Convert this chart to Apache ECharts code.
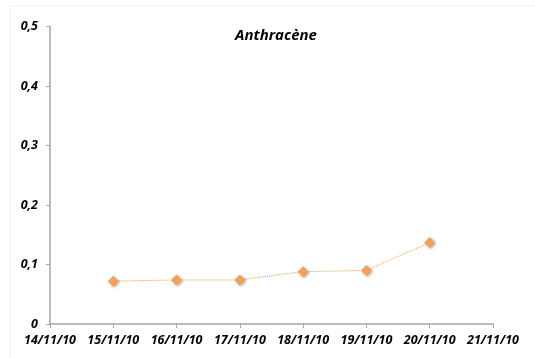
<!DOCTYPE html>
<html>
<head>
<meta charset="utf-8">
<script src="https://cdn.jsdelivr.net/npm/echarts@6/dist/echarts.min.js"></script>
<style>
  html, body { margin: 0; padding: 0; background: #fff; }
  #main { width: 535px; height: 358px; }
</style>
</head>
<body>
<div id="main"></div>
<script>
var dates = ['14/11/10', '15/11/10', '16/11/10', '17/11/10', '18/11/10', '19/11/10', '20/11/10', '21/11/10'];
var anthracene = [null, 0.072, 0.074, 0.074, 0.088, 0.090, 0.137, null];

var myChart = echarts.init(document.getElementById('main'));
var labelFont = {
  fontFamily: 'Open Sans',
  fontStyle: 'italic',
  fontWeight: 'bold',
  fontSize: 12.5,
  color: '#000'
};

var option = {
  animation: false,
  backgroundColor: '#fff',
  graphic: [{
    type: 'rect',
    shape: { x: 10, y: 6, width: 530, height: 360 },
    style: { fill: 'none', stroke: '#eeeeee', lineWidth: 1 },
    silent: true
  }],
  title: {
    text: 'Anthracène',
    left: 271,
    top: 23,
    textAlign: 'center',
    textStyle: {
      fontFamily: 'Open Sans',
      fontStyle: 'italic',
      fontWeight: 'bold',
      fontSize: 15,
      color: '#000'
    }
  },
  grid: { left: 50, right: 42, top: 26.5, bottom: 34, containLabel: false },
  xAxis: {
    type: 'category',
    data: dates,
    boundaryGap: false,
    axisLine: { lineStyle: { color: '#a6a6a6', width: 1.5 } },
    axisTick: { show: true, length: 4, lineStyle: { color: '#a6a6a6' } },
    axisLabel: Object.assign({ margin: 10, interval: 0 }, labelFont),
    splitLine: { show: false }
  },
  yAxis: {
    type: 'value',
    min: 0,
    max: 0.5,
    interval: 0.1,
    axisLine: { show: true, lineStyle: { color: '#a6a6a6', width: 1.5 } },
    axisTick: { show: true, length: 4, lineStyle: { color: '#a6a6a6' } },
    axisLabel: Object.assign({
      margin: 12,
      formatter: function (v) { return v === 0 ? '0' : v.toFixed(1).replace('.', ','); }
    }, labelFont),
    splitLine: { show: false }
  },
  series: [{
    name: 'Anthracène',
    type: 'line',
    data: anthracene,
    connectNulls: false,
    symbol: 'diamond',
    symbolSize: 11,
    lineStyle: { color: '#f39a45', width: 1, type: 'dotted' },
    itemStyle: {
      color: '#f2a05a',
      shadowColor: 'rgba(0,0,0,0.35)',
      shadowBlur: 3,
      shadowOffsetX: 1,
      shadowOffsetY: 1
    }
  }]
};

myChart.setOption(option);
</script>
</body>
</html>
